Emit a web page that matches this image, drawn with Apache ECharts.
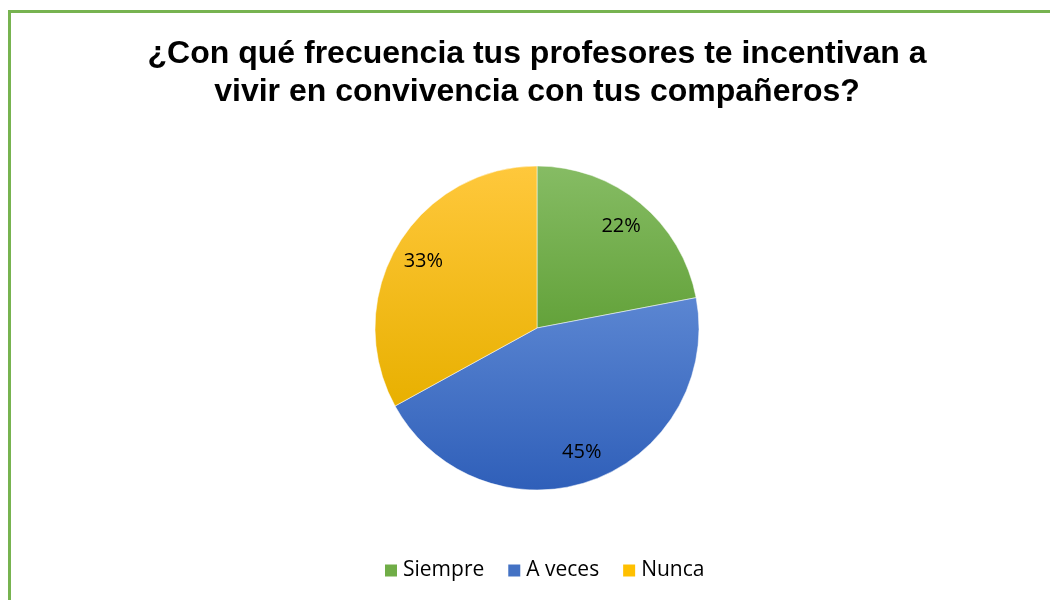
<!DOCTYPE html>
<html>
<head>
<meta charset="utf-8">
<script src="https://cdn.jsdelivr.net/npm/echarts@6/dist/echarts.min.js"></script>
<style>
  html, body { margin: 0; padding: 0; background: #fff; }
  #main { width: 1050px; height: 600px; }
</style>
</head>
<body>
<div id="main"></div>
<script>
// datos
var categorias = ['Siempre', 'A veces', 'Nunca'];
var valores = [22, 45, 33];
// colores (arriba / abajo del degradado)
var coloresArriba = ['#86bc64', '#5b86d2', '#ffc83c'];
var coloresAbajo = ['#63a23a', '#2f5fb9', '#e8b000'];
var coloresLeyenda = ['#70ad47', '#4472c4', '#ffc000'];

var chartDom = document.getElementById('main');
var myChart = echarts.init(chartDom, null, { renderer: 'canvas' });

function degradado(i) {
    return new echarts.graphic.LinearGradient(0, 0, 0, 1, [
        { offset: 0, color: coloresArriba[i] },
        { offset: 1, color: coloresAbajo[i] }
    ]);
}

var datosPie = categorias.map(function (c, i) {
    return { name: c, value: valores[i], itemStyle: { color: degradado(i) } };
});
var datosEtiquetas = categorias.map(function (c, i) {
    return { name: c, value: valores[i] };
});

var option = {
    backgroundColor: '#fff',
    animation: false,
    title: {
        text: '¿Con qué frecuencia tus profesores te incentivan a\nvivir en convivencia con tus compañeros?',
        left: 532,
        textAlign: 'center',
        top: 30,
        textStyle: {
            fontFamily: 'Liberation Sans, Arial',
            fontWeight: 'bold',
            fontSize: 32,
            lineHeight: 38,
            color: '#000'
        }
    },
    graphic: [
        {
            type: 'rect',
            shape: { x: 9.5, y: 11.5, width: 1100, height: 700 },
            style: { fill: null, stroke: '#77b350', lineWidth: 3 },
            silent: true
        }
    ],
    legend: {
        bottom: 14,
        left: 378,
        itemWidth: 14,
        itemHeight: 14,
        itemGap: 22,
        icon: 'rect',
        textStyle: { fontFamily: 'Open Sans', fontSize: 21, color: '#000' },
        data: categorias.map(function (c, i) {
            return { name: c, itemStyle: { color: coloresLeyenda[i] } };
        })
    },
    series: [
        {
            type: 'pie',
            center: [537, 328],
            radius: [0, 162],
            startAngle: 90,
            clockwise: true,
            label: { show: false },
            labelLine: { show: false },
            itemStyle: { borderColor: '#fff', borderWidth: 0.5 },
            emphasis: { disabled: true },
            data: datosPie
        },
        {
            type: 'pie',
            center: [537, 328],
            radius: [96, 162],
            startAngle: 90,
            clockwise: true,
            silent: true,
            legendHoverLink: false,
            itemStyle: { color: 'rgba(0,0,0,0)' },
            label: {
                show: true,
                position: 'inside',
                formatter: '{c}%',
                fontFamily: 'Open Sans',
                fontSize: 20,
                color: '#000'
            },
            labelLine: { show: false },
            data: datosEtiquetas
        }
    ]
};

option && myChart.setOption(option);
</script>
</body>
</html>
